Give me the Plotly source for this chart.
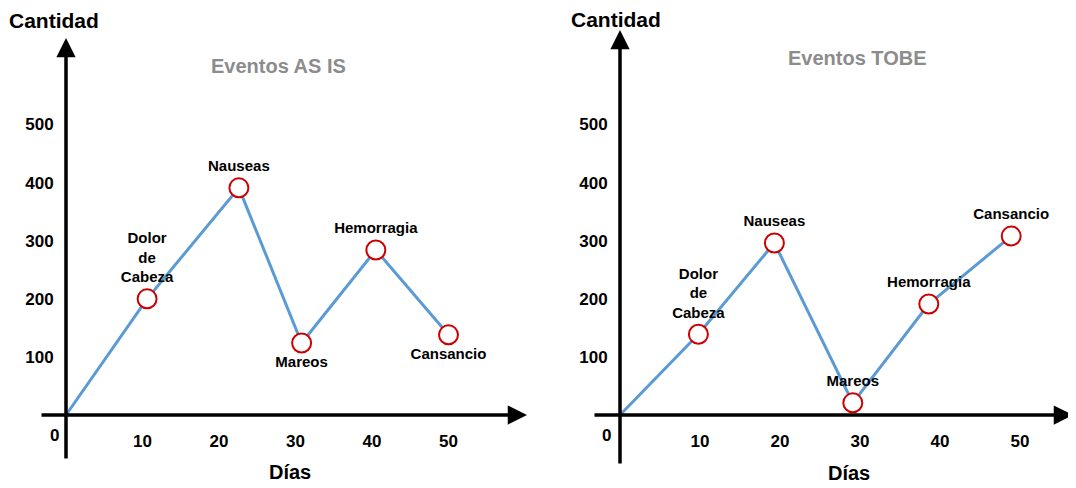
import plotly.graph_objects as go

# ---- data ----
event_labels = ["Dolor<br>de<br>Cabeza", "Nauseas", "Mareos", "Hemorragia", "Cansancio"]
asis_days = [10.6, 22.6, 30.8, 40.5, 50]
asis_qty = [200, 391, 124, 284, 138]
tobe_days = [9.8, 19.3, 29.1, 38.6, 48.9]
tobe_qty = [139, 296, 21, 191, 308]
x_tick_vals = [10, 20, 30, 40, 50]
x_tick_text = ["10", "20", "30", "40", "50"]
y_tick_vals = [100, 200, 300, 400, 500]
y_tick_text = ["100", "200", "300", "400", "500"]
titles = ["Eventos AS IS", "Eventos TOBE"]
asis_text_pos = ["top center", "top center", "bottom center", "top center", "bottom center"]
tobe_text_pos = ["top center", "top center", "top center", "top center", "top center"]

# page body has an 8px margin: figure pixel = screen pixel - OFF
OFF = 8
SW, SH = 1076, 488
W, H = SW - OFF, SH - OFF
FONT = "Liberation Sans, Arial, sans-serif"
LINE_C = "#5B9BD5"
MARK_C = "#CC0000"

fig = go.Figure()

panels = [
    dict(days=asis_days, qty=asis_qty, pos=asis_text_pos, xa="x", ya="y"),
    dict(days=tobe_days, qty=tobe_qty, pos=tobe_text_pos, xa="x2", ya="y2"),
]
for p in panels:
    fig.add_trace(go.Scatter(
        x=[0] + p["days"], y=[0] + p["qty"], mode="lines",
        line=dict(color=LINE_C, width=3), xaxis=p["xa"], yaxis=p["ya"],
        hoverinfo="skip", showlegend=False))
    fig.add_trace(go.Scatter(
        x=p["days"], y=p["qty"], mode="markers+text",
        marker=dict(size=19, color="white", line=dict(color=MARK_C, width=2)),
        text=event_labels, textposition=p["pos"],
        textfont=dict(family=FONT, size=15, color="black", weight="bold"),
        xaxis=p["xa"], yaxis=p["ya"], showlegend=False, cliponaxis=False))

# screen-pixel geometry of each panel
oy = 415 - OFF          # x-axis line (figure px)
yscale = 0.581          # px per unit
ymin = -(H - oy) / yscale
ymax = oy / yscale

def xr(d0, d1, ox, s):
    return [-(ox - d0) / s, (d1 - ox) / s]

split = 538 - OFF
left = dict(ox=66 - OFF, s=7.65, d0=0, d1=split)
right = dict(ox=620 - OFF, s=8.0, d0=split, d1=W)

tickfont = dict(family=FONT, size=17, color="black", weight="bold")
common_x = dict(showgrid=False, zeroline=False, showline=False, tickmode="array",
                tickvals=x_tick_vals, ticktext=x_tick_text, ticks="outside",
                ticklen=11, tickcolor="rgba(0,0,0,0)", tickfont=tickfont,
                anchor="free", position=(H - oy) / H, fixedrange=True)
common_y = dict(showgrid=False, zeroline=False, showline=False, tickmode="array",
                tickvals=y_tick_vals, ticktext=y_tick_text, ticks="outside",
                ticklen=9, tickcolor="rgba(0,0,0,0)", tickfont=tickfont,
                anchor="free", range=[ymin, ymax], domain=[0, 1], fixedrange=True)

fig.update_layout(
    width=W, height=H, margin=dict(l=0, r=0, t=0, b=0, pad=0),
    paper_bgcolor="white", plot_bgcolor="white", showlegend=False,
    xaxis=dict(common_x, domain=[left["d0"] / W, left["d1"] / W],
               range=xr(left["d0"], left["d1"], left["ox"], left["s"])),
    yaxis=dict(common_y, position=left["ox"] / W),
    xaxis2=dict(common_x, domain=[right["d0"] / W, right["d1"] / W],
                range=xr(right["d0"], right["d1"], right["ox"], right["s"])),
    yaxis2=dict(common_y, position=right["ox"] / W),
)

annotations = []
arrow_specs = [
    # (xref, yref, origin x screen px, px/day, x-left, x-tip, y-bottom, y-tip) in screen px
    ("x", "y", 66, 7.65, 40, 527, 460, 38),
    ("x2", "y2", 620, 8.0, 593, 1073, 465, 30),
]
for xref, yref, ox, s, xl, xt, yb, yt in arrow_specs:
    oys = oy + OFF
    annotations.append(dict(
        xref=xref, yref=yref, axref=xref, ayref=yref,
        x=(xt - ox) / s, y=0, ax=(xl - ox) / s, ay=0, text="",
        showarrow=True, arrowhead=2, arrowsize=1.1, arrowwidth=3.5,
        arrowcolor="black", standoff=0, startstandoff=0))
    annotations.append(dict(
        xref=xref, yref=yref, axref=xref, ayref=yref,
        x=0, y=(oys - yt) / yscale, ax=0, ay=-(yb - oys) / yscale, text="",
        showarrow=True, arrowhead=2, arrowsize=1.1, arrowwidth=3.5,
        arrowcolor="black", standoff=0, startstandoff=0))

def txt(x_px, y_px, text, size, color="black"):
    annotations.append(dict(
        xref="paper", yref="paper", x=(x_px - OFF) / W, y=1 - (y_px - OFF) / H,
        text=text, showarrow=False, xanchor="center", yanchor="middle",
        font=dict(family=FONT, size=size, color=color, weight="bold")))

txt(54, 20, "Cantidad", 21)
txt(616, 19, "Cantidad", 21)
txt(278, 66, titles[0], 20, "#8C8C8C")
txt(858, 58, titles[1], 20, "#8C8C8C")
txt(290, 472, "Días", 20)
txt(849, 473, "Días", 20)
txt(54, 435, "0", 17)
txt(606, 435, "0", 17)

fig.update_layout(annotations=annotations)

fig.write_html("out.html")
